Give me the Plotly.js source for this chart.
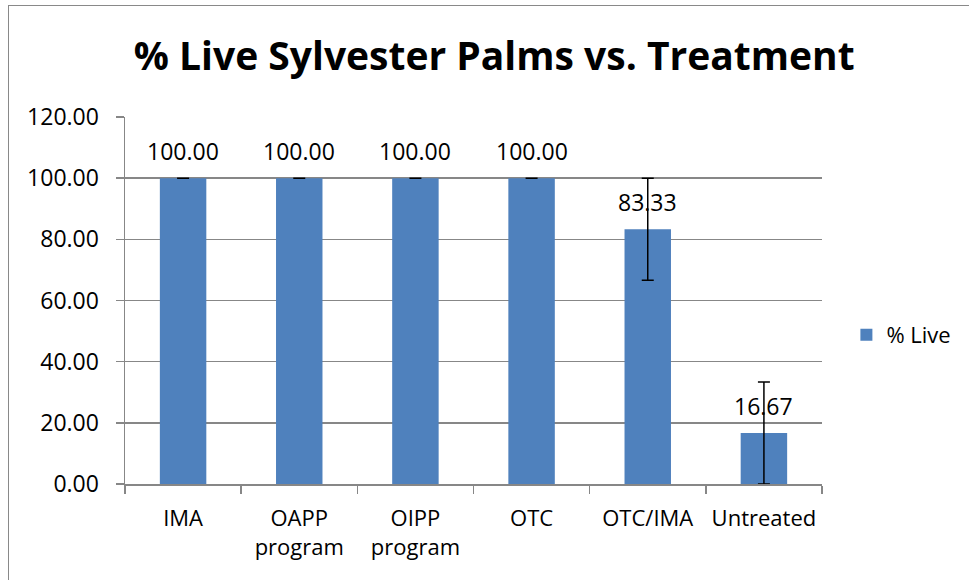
<!DOCTYPE html>
<html>
<head>
<meta charset="utf-8">
<script src="https://cdn.plot.ly/plotly-3.0.1.min.js"></script>
<style>
html,body{margin:0;padding:0;background:#fff;overflow:hidden;}
#frame{position:absolute;left:8px;top:5px;width:1200px;height:800px;border:1px solid #898989;}
#chart{position:absolute;left:0;top:0;width:969px;height:580px;}
</style>
</head>
<body>
<div id="frame"></div>
<div id="chart"></div>
<script>
var categories = ["IMA", "OAPP<br>program", "OIPP<br>program", "OTC", "OTC/IMA", "Untreated"];
var percentLive = [100.00, 100.00, 100.00, 100.00, 83.33, 16.67];
var errorValues = [0, 0, 0, 0, 16.67, 16.67];
var valueLabels = ["100.00", "100.00", "100.00", "100.00", "83.33", "16.67"];
var yTicks = [0, 20, 40, 60, 80, 100, 120];

var FONT = "Open Sans, sans-serif";

var trace = {
  type: "bar",
  name: "% Live",
  x: categories,
  y: percentLive,
  marker: {color: "#4F81BD", line: {width: 0}},
  error_y: {type: "data", array: errorValues, visible: true, color: "#000", thickness: 1.5, width: 6}
};

var annotations = categories.map(function (c, i) {
  return {
    x: c, y: percentLive[i], xref: "x", yref: "y",
    text: valueLabels[i], showarrow: false,
    xanchor: "center", yanchor: "middle", yshift: 27,
    font: {family: FONT, size: 23, color: "#000"}
  };
});

var layout = {
  width: 969, height: 580,
  paper_bgcolor: "rgba(0,0,0,0)",
  plot_bgcolor: "rgba(0,0,0,0)",
  margin: {l: 125, r: 147, t: 117, b: 96, autoexpand: false},
  bargap: 0.6,
  title: {text: "<b>% Live Sylvester Palms vs. Treatment</b>", x: 0.510, xanchor: "center", y: 0.902, yanchor: "middle",
    font: {family: FONT, size: 39, color: "#000"}},
  font: {family: FONT, size: 23, color: "#000"},
  showlegend: true,
  legend: {x: 1.035, xanchor: "left", y: 0.406, yanchor: "middle", font: {size: 22}, itemwidth: 30, bgcolor: "rgba(0,0,0,0)"},
  annotations: annotations,
  xaxis: {
    type: "category", automargin: false, tickangle: 0,
    showline: true, linecolor: "#878787", linewidth: 1.5,
    ticks: "outside", tickson: "boundaries", ticklen: 8, tickcolor: "#878787", tickwidth: 1.5,
    tickfont: {size: 22}, showgrid: false, zeroline: false, ticklabelstandoff: 14
  },
  yaxis: {
    range: [0, 120], tickvals: yTicks, tickformat: ".2f", automargin: false,
    showline: true, linecolor: "#878787", linewidth: 1.5,
    ticks: "outside", ticklen: 8, tickcolor: "#878787", tickwidth: 1.5,
    showgrid: true, gridcolor: "#878787", gridwidth: 1.5,
    zeroline: false, tickfont: {size: 23}, ticklabelstandoff: 12
  }
};

Plotly.newPlot("chart", [trace], layout, {displayModeBar: false, staticPlot: true});
</script>
</body>
</html>
